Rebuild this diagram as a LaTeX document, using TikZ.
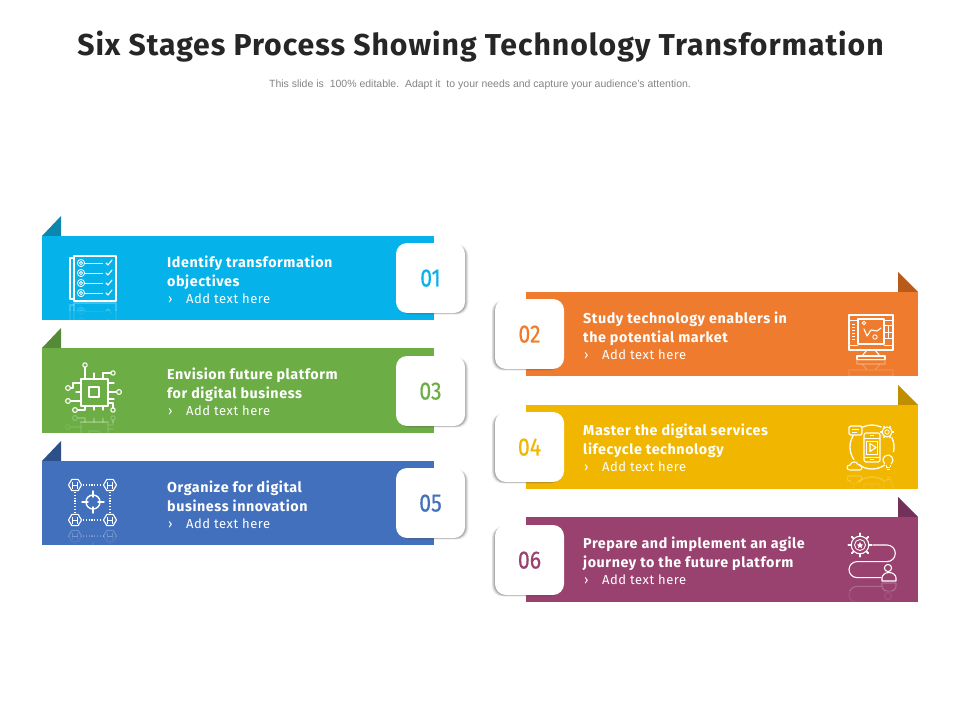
\documentclass[tikz,border=0pt]{standalone}
\usepackage{fontspec}
\setmainfont{Liberation Sans}
\newfontfamily\dinbold[LetterSpace=3.2,Ligatures=NoCommon]{Fira Sans}
\newfontfamily\dinhead[LetterSpace=4,Ligatures=NoCommon]{Fira Sans}
\newfontfamily\dinnum[FakeStretch=0.85,FakeBold=0.5]{Fira Sans}
\definecolor{cblue}{HTML}{05B2EA}\definecolor{fblue}{HTML}{0C86AE}
\definecolor{cgreen}{HTML}{6CAE45}\definecolor{fgreen}{HTML}{558A36}
\definecolor{cnavy}{HTML}{4270BC}\definecolor{fnavy}{HTML}{2E5089}
\definecolor{corange}{HTML}{EF7C2E}\definecolor{forange}{HTML}{B85A1A}
\definecolor{cyellow}{HTML}{F1B700}\definecolor{fyellow}{HTML}{BE9000}
\definecolor{cplum}{HTML}{99426F}\definecolor{fplum}{HTML}{73305A}
\usetikzlibrary{calc}
\tikzset{
 band/.style={fill=#1,inner sep=0pt,outer sep=0pt,minimum width=392pt,anchor=north west},
 card/.style={fill=white,rounded corners=11pt,inner sep=0pt,outer sep=0pt,minimum width=69pt,minimum height=70pt,anchor=north west,text=#1,text depth=0pt,font=\dinnum\fontsize{25}{29}\selectfont},
 head/.style={anchor=base west,inner sep=0pt,text=white,font=\dinhead\bfseries\fontsize{14.3}{17}\selectfont},
 sub/.style={anchor=base west,inner sep=0pt,text=white,font=\dinhead\fontsize{13}{15}\selectfont},
 iconline/.style={draw=white,line width=1.1pt,line join=round,line cap=round},
 thin line/.style={draw=white,line width=.85pt},
 dots/.style={draw=white,line width=1.2pt,dash pattern=on 1.2pt off 1.6pt}
}
\newcommand{\shadowrect}[3]{% x y sign
 \foreach \k/\o in {3.5/.05,2.8/.06,2.1/.08,1.4/.1,.7/.12}{
  \fill[black,opacity=\o,rounded corners=11pt] ({#1+(#3)*\k},{#2+1.5}) rectangle ++(69,{68.5+\k*.45});
 }}
\newcommand{\mirror}[5]{% icon, axis, xmin, xmax, ybottom
 \begin{scope}
  \clip (#3,#2) rectangle (#4,{#2+8});
  \begin{scope}[opacity=.22,shift={(0,2*#2)},yscale=-1]#1\end{scope}
 \end{scope}
 \begin{scope}
  \clip (#3,{#2+8}) rectangle (#4,#5);
  \begin{scope}[opacity=.09,shift={(0,2*#2)},yscale=-1]#1\end{scope}
 \end{scope}}
\newcommand{\icontargets}{%
 \draw[iconline] (74,256) rectangle (116,301);
 \draw[iconline] (74,258) -- (70,258) -- (70,299) -- (74,299);
 \foreach \yy in {263,273,283,293}{
  \draw[thin line] (81,\yy) circle (3.6) (81,\yy) circle (1.6);
  \draw[thin line] (85,\yy) -- (103,\yy);
  \draw[iconline] (106,\yy) -- (108,{\yy+2}) -- (112,{\yy-3});
 }}
\newcommand{\iconchip}{%
 \draw[iconline,line width=1.3pt] (81,379) rectangle (108,406);
 \draw[iconline,line width=1.3pt] (89,387) rectangle (99,397);
 \draw[iconline] (85,367) -- (85,379) (94,373) -- (94,379) (103,379) -- (103,373) -- (111,373);
 \draw[iconline] (71,388) -- (73,388) -- (73,383) -- (81,383) (76,392) -- (81,392) (71,401) -- (81,401);
 \draw[iconline] (108,383) -- (114,383) (108,392) -- (116,392) (108,399) -- (114,399);
 \draw[iconline] (78,410) -- (85,410) -- (85,406) (94,406) -- (94,410) (103,406) -- (103,410) (108,403) -- (113,403) -- (113,408);
 \draw[iconline] (85,365) circle (2.2) (113,373) circle (2.2) (68,388) circle (2.4) (68,401) circle (2.4)
   (119,392) circle (2.4) (75,410) circle (2.4) (113,410) circle (2.2);
}
\newcommand{\iconhexes}{%
 \foreach \cx/\cy in {75/485,110/485,75/520,110/520}{
  \draw[iconline] (\cx-6.5,\cy) -- (\cx-3.2,\cy-5.6) -- (\cx+3.2,\cy-5.6) -- (\cx+6.5,\cy) -- (\cx+3.2,\cy+5.6) -- (\cx-3.2,\cy+5.6) -- cycle;
  \draw[thin line] (\cx-2.5,\cy-3.5) -- (\cx-2.5,\cy+3.5) (\cx+2.5,\cy-3.5) -- (\cx+2.5,\cy+3.5) (\cx-2.5,\cy) -- (\cx+2.5,\cy);
 }
 \draw[dots] (83,485) -- (103,485) (83,520) -- (103,520) (75,492) -- (75,513) (110,492) -- (110,513);
 \draw[iconline,line width=1.4pt] (93,502) circle (7);
 \draw[iconline,line width=1.4pt] (93,491) -- (93,497) (93,507) -- (93,513) (82,502) -- (88,502) (98,502) -- (104,502);
}
\newcommand{\iconmonitor}{%
 \draw[iconline] (849,315) rectangle (893,350);
 \draw[iconline] (858,319) rectangle (884,344);
 \draw[thin line] (849,320) -- (858,320) (884,320) -- (893,320);
 \draw[thin line] (884,325) -- (893,325) (884,332) -- (893,332) (888.5,325) -- (888.5,338) (884,338) -- (893,338);
 \foreach \yy in {324,327,330,333,336,339}{\draw[thin line] (852,\yy) -- (855,\yy);}
 \draw[thin line] (849,345) -- (858,345) (884,345) -- (893,345);
 \draw[iconline] (864,329) -- (867,336) -- (871,330) -- (877,331) -- (881,328);
 \draw[thin line] (864,323) circle (1.8) (875,337) circle (2.2);
 \draw[iconline] (867,350) -- (862,356) (875,350) -- (880,356);
 \draw[iconline] (857,356) rectangle (885,359.5);
}
\newcommand{\iconservice}{%
 \draw[iconline,line width=1.3pt] (872,447) ++(-115:22) arc (-115:-65:22);
 \draw[iconline,line width=1.3pt] (872,447) ++(-150:22) arc (-150:-215:22);
 \draw[iconline,line width=1.3pt] (872,447) ++(-235:22) arc (-235:-305:22);
 \draw[iconline,line width=1.3pt] (872,447) ++(-25:22) arc (-25:12:22);
 \draw[iconline,rounded corners=2pt] (864,433) rectangle (880,462);
 \draw[thin line] (864,438) -- (880,438) (864,457) -- (880,457) (870,435.5) -- (874,435.5) (870,459.5) -- (874,459.5);
 \draw[thin line] (866.5,441) rectangle (877.5,454);
 \draw[iconline] (870,443.5) -- (876,447.5) -- (870,451.5) -- cycle;
 \draw[iconline,rounded corners=1.5pt,fill=cyellow] (849,426) rectangle (862,435);
 \draw[thin line] (852,429) -- (859,429) (852,432) -- (857,432);
 \foreach \a in {0,60,...,300}{\draw[iconline,line width=1.5pt] (887,432) ++(\a:5) -- ++(\a:1.4);}
 \draw[iconline] (887,432) circle (5);
 \draw[thin line] (887,432) circle (2.2);
 \draw[iconline] (888,460) ++(50:5) arc (50:-230:5);
 \draw[thin line] (886,465) -- (886,467) (890,465) -- (890,467) (886,467) -- (890,467) (886.5,469) -- (889.5,469);
 \draw[iconline] (850,470) .. controls (846,470) and (846,465) .. (850,465) .. controls (851,461) and (857,461) .. (858,464.5) .. controls (862,464) and (863,470) .. (860,470) -- cycle;
}
\newcommand{\iconjourney}{%
 \foreach \a in {0,45,...,315}{
  \draw[iconline,line width=1.8pt] (860,545) ++(\a:9.3) -- ++(\a:2.4);
 }
 \draw[iconline] (860,545) circle (8.8);
 \draw[thin line] (860,545) circle (5.5);
 \fill[white] (860,542) -- (861,544.2) -- (863,544.6) -- (861.5,546) -- (862,548) -- (860,547) -- (858,548) -- (858.5,546) -- (857,544.6) -- (859,544.2) -- cycle;
 \draw[iconline] (873,545) -- (887,545) arc (-90:90:8.3) -- (857,561.6) arc (-90:-270:8) -- (881,577.6);
 \draw[iconline] (888,568) circle (3.6);
 \draw[iconline] (882,581) -- (882,578) arc (180:360:7 and 5.5) -- (896,581) -- cycle;
}
\begin{document}
\begin{tikzpicture}[x=1pt,y=-1pt]
\useasboundingbox (0,0) rectangle (960,720);
\fill[white] (0,0) rectangle (960,720);
\node (title) at (480.5,46.5) [inner sep=0pt,text=black!85,font=\dinbold\bfseries\fontsize{30.2}{36}\selectfont] {Six Stages Process Showing Technology Transformation};
\node (subtitle) at (480,84.5) [inner sep=0pt,text=black!48,font=\fontsize{10.5}{13}\selectfont] {This slide is\ \ 100\% editable.\ \ Adapt it\ \ to your needs and capture your audience's attention.};
% folds
\fill[fblue] (42,236) -- (61,216) -- (61,236) -- cycle;
\fill[fgreen] (42,348) -- (61,328) -- (61,348) -- cycle;
\fill[fnavy] (42,461) -- (61,441) -- (61,461) -- cycle;
\fill[forange] (918,292) -- (898,272) -- (898,292) -- cycle;
\fill[fyellow] (918,405) -- (898,385) -- (898,405) -- cycle;
\fill[fplum] (918,517) -- (898,497) -- (898,517) -- cycle;
% bands
\node (b1) [band=cblue,minimum height=84pt] at (42,236) {};
\node (b3) [band=cgreen,minimum height=85pt] at (42,348) {};
\node (b5) [band=cnavy,minimum height=84pt] at (42,461) {};
\node (b2) [band=corange,minimum height=84pt] at (526,292) {};
\node (b4) [band=cyellow,minimum height=84pt] at (526,405) {};
\node (b6) [band=cplum,minimum height=85pt] at (526,517) {};
% shadows and cards
\shadowrect{396}{243}{1}\node (c1) [card=cblue] at (396,243) {01};
\shadowrect{396}{356}{1}\node (c3) [card=cgreen] at (396,356) {03};
\shadowrect{396}{468}{1}\node (c5) [card=cnavy] at (396,468) {05};
\shadowrect{495}{299}{-1}\node (c2) [card=corange] at (495,299) {02};
\shadowrect{495}{412}{-1}\node (c4) [card=cyellow] at (495,412) {04};
\shadowrect{495}{525}{-1}\node (c6) [card=cplum] at (495,525) {06};
% icons
\icontargets \mirror{\icontargets}{302}{66}{120}{320}
\iconchip \mirror{\iconchip}{414}{60}{125}{433}
\iconhexes \mirror{\iconhexes}{528}{60}{125}{545}
\iconmonitor \mirror{\iconmonitor}{360}{845}{897}{376}
\iconservice \mirror{\iconservice}{473}{845}{897}{489}
\iconjourney \mirror{\iconjourney}{582}{845}{900}{602}
% text
\node (t1a) [head] at (167,267) {Identify transformation};
\node (t1b) [head] at (167,286) {objectives};
\node (m1) [sub] at (168,303) {›}; \node (t1c) [sub] at (186,303) {Add text here};
\node (t3a) [head] at (167,379) {Envision future platform};
\node (t3b) [head] at (167,398) {for digital business};
\node (m3) [sub] at (168,415) {›}; \node (t3c) [sub] at (186,415) {Add text here};
\node (t5a) [head] at (167,492) {Organize for digital};
\node (t5b) [head] at (167,511) {business innovation};
\node (m5) [sub] at (168,528) {›}; \node (t5c) [sub] at (186,528) {Add text here};
\node (t2a) [head] at (583,323) {Study technology enablers in};
\node (t2b) [head] at (583,342) {the potential market};
\node (m2) [sub] at (584,359) {›}; \node (t2c) [sub] at (602,359) {Add text here};
\node (t4a) [head] at (583,435) {Master the digital services};
\node (t4b) [head] at (583,454) {lifecycle technology};
\node (m4) [sub] at (584,471) {›}; \node (t4c) [sub] at (602,471) {Add text here};
\node (t6a) [head] at (583,548) {Prepare and implement an agile};
\node (t6b) [head] at (583,567) {journey to the future platform};
\node (m6) [sub] at (584,584) {›}; \node (t6c) [sub] at (602,584) {Add text here};
\end{tikzpicture}
\end{document}
